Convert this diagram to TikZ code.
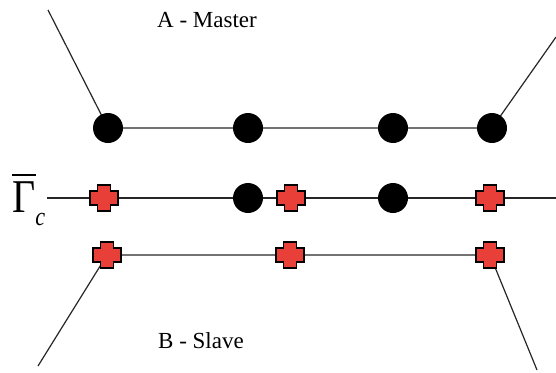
\documentclass[tikz,border=0pt]{standalone}
\usepackage{fix-cm}
\usepackage{fontspec}
\setmainfont{Liberation Serif}
\usetikzlibrary{backgrounds}

\definecolor{plusred}{RGB}{232,64,56}

\begin{document}
\begin{tikzpicture}[x=1pt, y=-1pt,
	master/.style={circle, fill=black, minimum size=30, inner sep=0},
	slave/.style={rectangle, minimum width=32, minimum height=30, inner sep=0,
		path picture={\draw[line width=1.1, fill=plusred]
			(path picture bounding box.center) ++(-14,-7) -- ++(7.5,0) -- ++(0,-6) -- ++(13,0)
			-- ++(0,6) -- ++(7.5,0) -- ++(0,14) -- ++(-7.5,0) -- ++(0,6) -- ++(-13,0)
			-- ++(0,-6) -- ++(-7.5,0) -- cycle;}},
	link/.style={line width=1.2, black!85},
	label/.style={font=\fontsize{23}{27}\selectfont, anchor=base, inner sep=0}]
	\useasboundingbox (0,0) rectangle (556,372);
	% master side
	\node[master] (a1) at (108,128) {};
	\node[master] (a2) at (248,128) {};
	\node[master] (a3) at (393,128) {};
	\node[master] (a4) at (492,128) {};
	\coordinate (atl) at (48,10);
	\coordinate (atr) at (556,37);
	% contact surface
	\node[slave] (g1) at (104,198) {};
	\node[master] (g2) at (248,198) {};
	\node[slave] (g3) at (291,198) {};
	\node[master] (g4) at (393,198) {};
	\node[slave] (g5) at (490,198) {};
	\coordinate (gl) at (47,198);
	\coordinate (gr) at (556,198);
	% slave side
	\node[slave] (b1) at (107,255) {};
	\node[slave] (b2) at (290,255) {};
	\node[slave] (b3) at (490,255) {};
	\coordinate (bbl) at (38,366);
	\coordinate (bbr) at (537,370);
	\begin{scope}[on background layer]
		\draw[link] (atl) -- (a1.center) -- (a2.center) -- (a3.center) -- (a4.center) -- (atr);
		\draw[link] (gl) -- (gr);
		\draw[link] (bbl) -- (b1.center) -- (b2.center) -- (b3.center) -- (bbr);
	\end{scope}
	% labels
	\node[label] (mastertext) at (207,27) {A - Master};
	\node[label] (slavetext) at (201,348) {B - Slave};
	\node[anchor=base west, inner sep=0, xscale=0.85, font=\fontsize{47}{50}\selectfont]
		(gamma) at (12,212) {\makebox[0pt][l]{\raisebox{36pt}{\rule{28pt}{2pt}}}Γ\raisebox{-13pt}{\fontsize{26}{30}\selectfont\itshape c}};
\end{tikzpicture}
\end{document}
